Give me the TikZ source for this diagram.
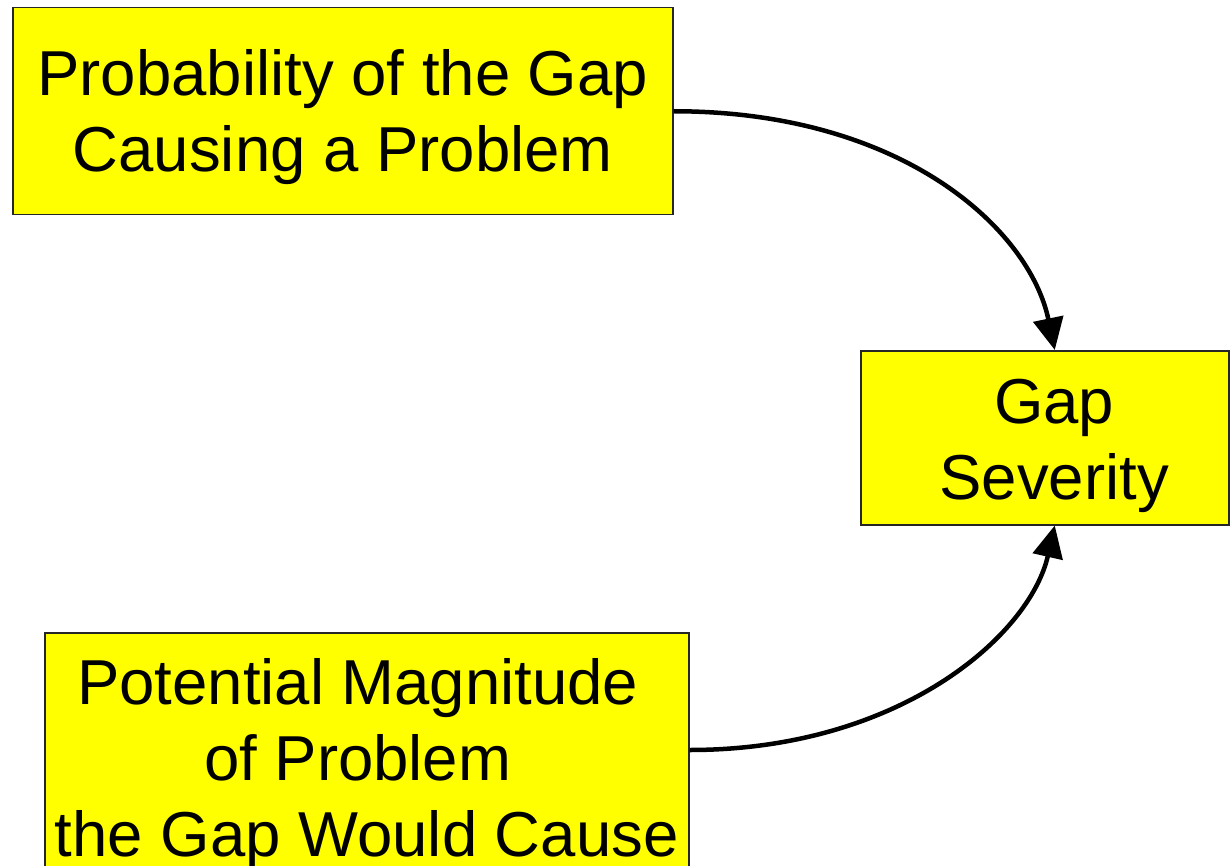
\documentclass[tikz,border=0pt]{standalone}
\usepackage{fontspec}
\setmainfont{Liberation Sans}
\usetikzlibrary{arrows.meta,calc}
\definecolor{boxfill}{RGB}{255,255,0}
\begin{document}
\begin{tikzpicture}[x=1pt,y=-1pt,
  box/.style={draw=black!85, line width=1.5pt, fill=boxfill, align=center,
    inner sep=0pt, anchor=north west, font=\fontsize{63.5}{76}\selectfont},
  link/.style={line width=4.5pt, -{Triangle[length=32pt,width=30pt]}}]
\useasboundingbox (0,0) rectangle (1230,866);
% the three factors
\node[box, minimum width=660pt, minimum height=207pt] (prob) at (12,7)
  {\rule{0pt}{57pt}Probability of the Gap\\Causing a Problem};
\node[box, minimum width=368pt, minimum height=174pt] (sev) at (860,350)
  {\rule{0pt}{61pt}\kern19pt Gap\\\kern19pt Severity};
\node[box, minimum width=644pt, minimum height=262pt] (mag) at (44,632)
  {Potential Magnitude\kern18pt\\of Problem\kern18pt\\the Gap Would Cause};
% influence arrows
\coordinate (sevtop) at ($(sev.north)+(10,0)$);
\coordinate (sevbot) at ($(sev.south)+(10,0)$);
\coordinate (magout) at ($(mag.north east)+(0,118)$);
\draw[link] (prob.east) .. controls +(230,0) and +(-25,-120) .. (sevtop);
\draw[link] (magout) .. controls +(210,0) and +(-25,110) .. (sevbot);
\end{tikzpicture}
\end{document}
